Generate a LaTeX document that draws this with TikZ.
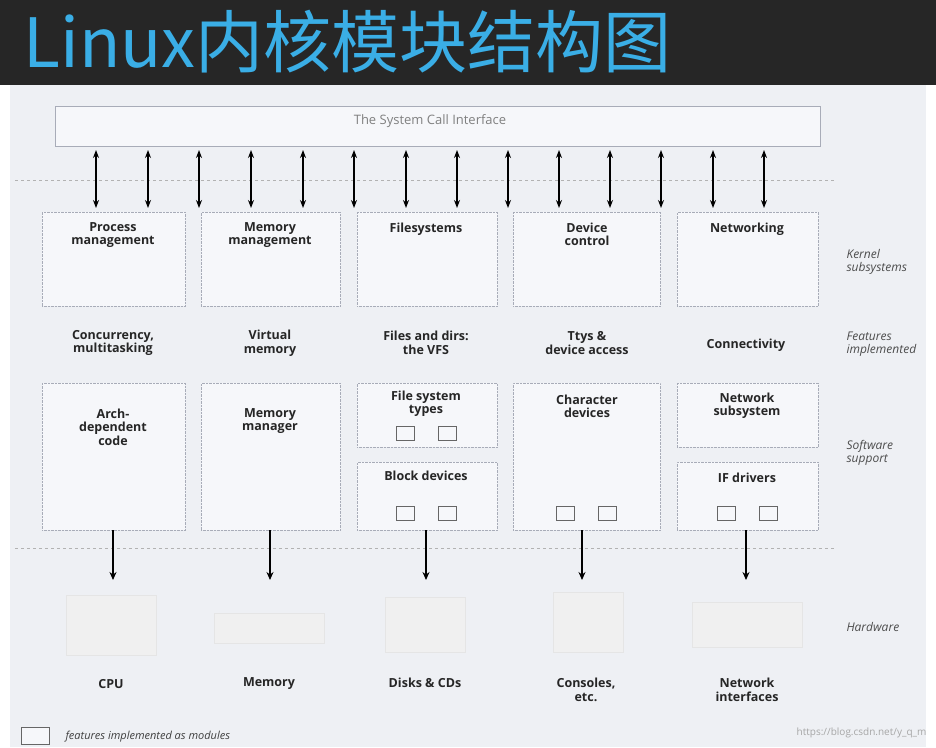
\documentclass[tikz,border=0pt]{standalone}
\usepackage{fontspec}
\setmainfont{Open Sans}
\newfontfamily\cjk{Noto Sans CJK SC}
\usetikzlibrary{arrows.meta}
\definecolor{panel}{HTML}{EEF0F4}
\definecolor{boxc}{HTML}{F6F7FA}
\definecolor{titc}{HTML}{3AAEE6}
\definecolor{edgec}{HTML}{A8ACB8}
\tikzset{
 sub/.style={draw=edgec,densely dotted,fill=boxc,minimum width=#1,anchor=north west,inner sep=0pt},
 lbl/.style={font=\bfseries\fontsize{12.5}{13.5}\selectfont,align=center,text=black!85},
 side/.style={font=\itshape\fontsize{12}{13}\selectfont,align=left,anchor=west,text=black!70},
 mod/.style={draw=black!60,fill=boxc,minimum width=18pt,minimum height=14pt,inner sep=0pt},
 darr/.style={{Stealth[length=8pt,width=6pt]}-{Stealth[length=8pt,width=6pt]},line width=1.3pt},
 arr/.style={-{Stealth[length=8pt,width=7pt]},line width=1.3pt},
 hw/.style={fill=black!6,draw=black!10}
}
\begin{document}
\begin{tikzpicture}[x=1pt,y=-1pt]
\useasboundingbox (0,0) rectangle (936,747);
\fill[black!85] (0,0) rectangle (936,85);
\fill[panel] (10,85) rectangle (926,747);
\node[anchor=west,text=titc,font=\cjk\fontsize{68}{72}\selectfont] (title) at (20,42) {Linux内核模块结构图};
% syscall
\node[draw=edgec,fill=boxc,minimum width=765pt,minimum height=40pt,anchor=north west,inner sep=0pt] (sci) at (55,106) {};
\node[text=black!50,font=\fontsize{13}{14}\selectfont] (scit) at (430,121) {The System Call Interface};
\draw[black!30,dashed] (15,180) -- (835,180);
\foreach \x [count=\i] in {96,148,199,251,303,354,406,457,508,559,610,661,713,764}{
  \coordinate (t\i) at (\x,150); \coordinate (b\i) at (\x,208);
  \draw[darr] (t\i) -- (b\i);}
% row 1
\node[sub=143pt,minimum height=94pt] (p) at (42,212) {};
\node[sub=139pt,minimum height=94pt] (m) at (201,212) {};
\node[sub=140pt,minimum height=94pt] (f) at (357,212) {};
\node[sub=147pt,minimum height=94pt] (d) at (513,212) {};
\node[sub=141pt,minimum height=94pt] (n) at (677,212) {};
\node[lbl,anchor=north] at (113,219) {Process\\management};
\node[lbl,anchor=north] at (270,219) {Memory\\management};
\node[lbl,anchor=north] at (426,219) {Filesystems};
\node[lbl,anchor=north] at (587,219) {Device\\control};
\node[lbl,anchor=north] at (747,219) {Networking};
% features
\node[lbl] at (113,343) {Concurrency,\\multitasking};
\node[lbl] at (270,343) {Virtual\\memory};
\node[lbl] at (426,343) {Files and dirs:\\the VFS};
\node[lbl] at (587,343) {Ttys \&\\device access};
\node[lbl] at (746,345) {Connectivity};
% row 3
\node[sub=143pt,minimum height=147pt] (arch) at (42,383) {};
\node[sub=139pt,minimum height=147pt] (mm) at (201,383) {};
\node[sub=140pt,minimum height=64pt] (fst) at (357,383) {};
\node[sub=140pt,minimum height=68pt] (bd) at (357,462) {};
\node[sub=147pt,minimum height=147pt] (cd) at (513,383) {};
\node[sub=141pt,minimum height=64pt] (ns) at (677,383) {};
\node[sub=141pt,minimum height=68pt] (ifd) at (677,462) {};
\node[lbl,anchor=north] at (113,405) {Arch-\\dependent\\code};
\node[lbl,anchor=north] at (270,405) {Memory\\manager};
\node[lbl,anchor=north] at (426,387) {File system\\types};
\node[lbl,anchor=north] at (426,467) {Block devices};
\node[lbl,anchor=north] at (587,391) {Character\\devices};
\node[lbl,anchor=north] at (747,389) {Network\\subsystem};
\node[lbl,anchor=north] at (747,469) {IF drivers};
\foreach \x in {405,447}{\node[mod] at (\x,433) {}; \node[mod] at (\x,513) {};}
\foreach \x in {565,607}{\node[mod] at (\x,513) {};}
\foreach \x in {726,768}{\node[mod] at (\x,513) {};}
\draw[black!30,dashed] (15,548) -- (835,548);
% side labels
\node[side] at (843,262) {Kernel\\subsystems};
\node[side] at (843,344) {Features\\implemented};
\node[side] at (843,453) {Software\\support};
\node[side] at (843,627) {Hardware};
% hardware
\node[hw,minimum width=90pt,minimum height=60pt] (cpu) at (111,625) {};
\node[hw,minimum width=110pt,minimum height=30pt] (mem) at (269,628) {};
\node[hw,minimum width=80pt,minimum height=55pt] (disk) at (425,625) {};
\node[hw,minimum width=70pt,minimum height=60pt] (con) at (588,622) {};
\node[hw,minimum width=110pt,minimum height=45pt] (net) at (747,625) {};
\coordinate (e1) at (113,580); \coordinate (s1) at (113,530);
\coordinate (e2) at (270,580); \coordinate (s2) at (270,530);
\coordinate (e3) at (426,580); \coordinate (s3) at (426,530);
\coordinate (e4) at (582,580); \coordinate (s4) at (582,530);
\coordinate (e5) at (746,580); \coordinate (s5) at (746,530);
\foreach \i in {1,...,5}{\draw[arr] (s\i) -- (e\i);}
\node[lbl] at (111,684) {CPU};
\node[lbl] at (269,684) {Memory};
\node[lbl] at (425,683) {Disks \& CDs};
\node[lbl] at (586,690) {Consoles,\\etc.};
\node[lbl] at (747,690) {Network\\interfaces};
% legend
\node[mod,minimum width=28pt,minimum height=17pt] (leg) at (35,736) {};
\node[anchor=west,font=\itshape\fontsize{11}{12}\selectfont,text=black!75] at (62,737) {features implemented as modules};
\node[anchor=east,font=\fontsize{10}{11}\selectfont,text=black!35] at (930,733) {https://blog.csdn.net/y\_q\_m};
\end{tikzpicture}
\end{document}
